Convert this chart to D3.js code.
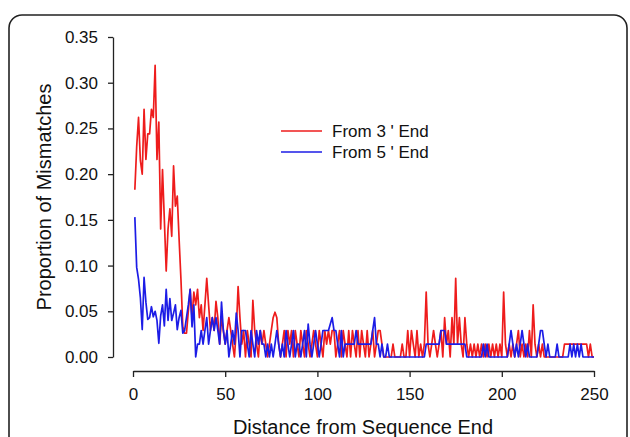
<!DOCTYPE html>
<html>
<head>
<meta charset="utf-8">
<style>
  html, body {
    margin: 0;
    padding: 0;
    background: #fff;
  }
  svg {
    display: block;
    font-family: "Liberation Sans", Arial, sans-serif;
  }
  .axis path, .axis line {
    stroke: #222;
    stroke-width: 1.3;
  }
  .axis text {
    fill: #111;
    font-size: 17px;
  }
</style>
<script src="https://cdn.jsdelivr.net/npm/d3@7/dist/d3.min.js"></script>
</head>
<body>
<div id="vis"></div>
<script>
  // proportion of mismatches at each position 1..250
  var from3End = [
    .183, .230, .262, .215, .200, .271, .216, .244, .244, .271,
    .262, .319, .216, .257, .140, .205, .150, .094, .140, .162,
    .132, .209, .165, .176, .129, .085, .033, .026, .026, .050,
    .074, .043, .071, .057, .074, .043, .057, .029, .057, .086,
    .057, .029, .043, .029, .061, .043, .014, .043, .029, .014,
    .029, .043, .029, .014, .000, .029, .077, .043, .014, .029,
    .000, .029, .014, .000, .062, .029, .014, .000, .029, .014,
    .029, .014, .000, .014, .029, .043, .049, .043, .014, .000,
    .014, .029, .000, .029, .014, .029, .000, .029, .014, .000,
    .029, .014, .000, .029, .014, .000, .014, .029, .014, .000,
    .029, .014, .000, .029, .014, .029, .014, .029, .029, .000,
    .014, .029, .000, .029, .014, .000, .029, .000, .029, .014,
    .000, .029, .000, .029, .014, .000, .029, .000, .014, .029,
    .000, .014, .029, .029, .014, .000, .000, .000, .000, .000,
    .014, .000, .000, .000, .000, .014, .000, .000, .029, .000,
    .029, .014, .000, .029, .000, .014, .000, .014, .071, .014,
    .000, .014, .029, .014, .000, .014, .029, .000, .043, .014,
    .029, .000, .043, .014, .086, .014, .043, .014, .000, .043,
    .014, .000, .014, .000, .014, .000, .014, .000, .014, .000,
    .014, .000, .014, .000, .014, .000, .014, .000, .014, .000,
    .071, .014, .000, .014, .000, .014, .000, .014, .029, .000,
    .014, .000, .014, .000, .029, .000, .057, .014, .000, .014,
    .000, .014, .000, .000, .000, .000, .000, .000, .000, .000,
    .000, .000, .000, .014, .014, .014, .014, .014, .014, .014,
    .014, .014, .014, .014, .014, .014, .000, .014, .000, .000
  ];

  var from5End = [
    .153, .098, .085, .065, .030, .087, .060, .041, .043, .055,
    .044, .050, .040, .015, .045, .057, .034, .074, .040, .064,
    .040, .048, .057, .030, .043, .051, .026, .029, .043, .057,
    .074, .033, .057, .000, .014, .014, .029, .014, .029, .043,
    .014, .029, .043, .029, .043, .029, .014, .060, .029, .014,
    .029, .000, .014, .029, .014, .048, .029, .000, .029, .029,
    .029, .014, .000, .029, .014, .000, .029, .014, .029, .014,
    .014, .000, .014, .000, .014, .000, .014, .029, .014, .000,
    .014, .000, .029, .014, .000, .014, .029, .000, .014, .014,
    .000, .014, .029, .000, .036, .014, .000, .014, .029, .014,
    .000, .014, .029, .029, .029, .029, .036, .043, .029, .029,
    .014, .000, .029, .000, .014, .014, .014, .014, .014, .014,
    .029, .014, .014, .014, .014, .014, .014, .014, .014, .029,
    .043, .014, .014, .000, .014, .000, .000, .014, .000, .000,
    .000, .000, .000, .000, .000, .000, .000, .000, .000, .000,
    .000, .000, .000, .000, .000, .000, .000, .000, .014, .014,
    .014, .014, .014, .014, .014, .014, .029, .029, .029, .014,
    .014, .014, .014, .014, .014, .014, .014, .014, .014, .014,
    .000, .000, .000, .000, .000, .000, .000, .000, .000, .014,
    .000, .014, .000, .000, .000, .000, .000, .000, .000, .000,
    .000, .000, .000, .014, .029, .014, .000, .014, .000, .014,
    .029, .014, .000, .014, .000, .000, .000, .000, .000, .014,
    .029, .029, .014, .000, .014, .000, .000, .000, .000, .014,
    .000, .000, .000, .000, .000, .000, .014, .000, .014, .000,
    .014, .000, .014, .000, .000, .000, .000, .000, .000, .000
  ];

  var seriesNames = ["From 3 ' End", "From 5 ' End"];
  var seriesColors = ["#ee1c1c", "#1c1ce6"];
  var xTicks = [0, 50, 100, 150, 200, 250];
  var yTicks = [0, 0.05, 0.10, 0.15, 0.20, 0.25, 0.30, 0.35];

  var width = 630, height = 437;

  var svg = d3.select('#vis').append('svg')
    .attr('width', width)
    .attr('height', height);

  // rounded frame, bottom edge runs off the picture
  svg.append('rect')
    .attr('x', 9)
    .attr('y', 15)
    .attr('width', 618)
    .attr('height', 460)
    .attr('rx', 13)
    .attr('fill', 'none')
    .attr('stroke', '#222')
    .attr('stroke-width', 1.6);

  var x = d3.scaleLinear().domain([0, 250]).range([133, 594]);
  var y = d3.scaleLinear().domain([0, 0.35]).range([357, 37]);

  svg.append('g')
    .attr('class', 'axis')
    .attr('transform', 'translate(113,0)')
    .call(d3.axisLeft(y).tickValues(yTicks).tickFormat(d3.format('.2f'))
      .tickSizeInner(5).tickSizeOuter(0).tickPadding(10));

  svg.append('g')
    .attr('class', 'axis')
    .attr('transform', 'translate(0,371)')
    .call(d3.axisBottom(x).tickValues(xTicks).tickFormat(d3.format('d'))
      .tickSizeInner(6).tickSizeOuter(0).tickPadding(11));

  svg.append('text')
    .attr('x', 363)
    .attr('y', 434)
    .attr('text-anchor', 'middle')
    .attr('font-size', 20)
    .attr('fill', '#111')
    .text('Distance from Sequence End');

  svg.append('text')
    .attr('transform', 'translate(51,197) rotate(-90)')
    .attr('text-anchor', 'middle')
    .attr('font-size', 20)
    .attr('fill', '#111')
    .text('Proportion of Mismatches');

  var line = d3.line()
    .x((d, i) => x(i + 1))
    .y(d => y(d));

  [from3End, from5End].forEach(function(vals, k) {
    svg.append('path')
      .datum(vals)
      .attr('d', line)
      .attr('fill', 'none')
      .attr('stroke', seriesColors[k])
      .attr('stroke-width', 1.7)
      .attr('stroke-linejoin', 'round');
  });

  // legend
  var legend = svg.selectAll('.legend')
    .data(seriesNames)
    .enter().append('g')
    .attr('class', 'legend')
    .attr('transform', (d, i) => `translate(281,${131 + i * 21})`);

  legend.append('line')
    .attr('x1', 0)
    .attr('x2', 41)
    .attr('stroke', (d, i) => seriesColors[i])
    .attr('stroke-width', 1.7);

  legend.append('text')
    .attr('x', 51)
    .attr('dy', '0.35em')
    .attr('font-size', 17)
    .attr('fill', '#111')
    .text(d => d);
</script>
</body>
</html>
